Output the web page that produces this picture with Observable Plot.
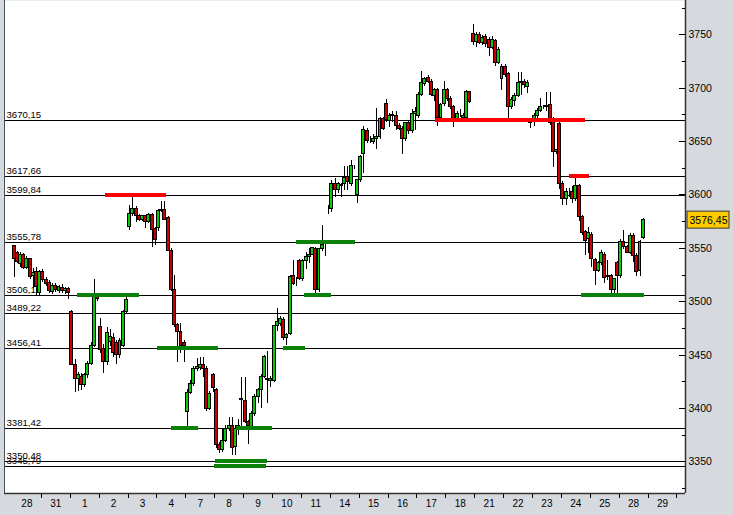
<!DOCTYPE html>
<html><head><meta charset="utf-8">
<script src="https://cdn.jsdelivr.net/npm/d3@7"></script>
<script src="https://cdn.jsdelivr.net/npm/@observablehq/plot@0.6"></script>
<style>
html,body{margin:0;padding:0;background:#d6dadf;}
#chart svg{display:block;}
</style></head><body><div id="chart"></div>
<script>
// ---- data ----
const dayLabels = ["28","31","1","2","3","4","7","8","9","10","11","14","15","16","17","18","21","22","23","24","25","28","29"];
const candlesPerDay = 9;
const open = [3552,3546,3535,3544,3532,3540,3524,3528,3508,3528,3520,3518,3509,3515,3510,3513,3510,3512,
3490,3441,3428,3430,3422,3431,3442,3459,3506,3476,3456,3444,3462,3466,3461,3450,3459,3490,
3570,3582,3587,3580,3577,3580,3575,3581,3568,3569,3585,3586,3578,3548,3511,3478,3472,3461,
3397,3415,3423,3437,3438,3441,3437,3400,3431,3417,3366,3361,3370,3381,3384,3364,3381,3408,
3407,3387,3383,3395,3411,3417,3430,3428,3426,3426,3477,3479,3483,3466,3470,3524,3517,3538,
3521,3538,3542,3544,3549,3511,3549,3554,3587,3587,3610,3605,3608,3610,3617,3610,3627,3600,
3614,3638,3660,3651,3650,3652,3654,3671,3685,3669,3674,3674,3665,3662,3652,3667,3660,3676,
3674,3694,3704,3710,3706,3693,3698,3672,3685,3698,3690,3682,3670,3676,3672,3672,3696,3751,
3743,3750,3742,3748,3745,3738,3744,3724,3709,3720,3713,3682,3688,3693,3705,3706,3701,3670,
3668,3674,3679,3682,3682,3684,3668,3640,3666,3610,3596,3602,3603,3596,3608,3579,3565,3559,
3563,3539,3529,3536,3544,3524,3524,3511,3536,3524,3556,3551,3546,3562,3543,3529,3560];
const high = [3553,3547,3546,3545,3542,3541,3531,3532,3529,3530,3523,3520,3517,3517,3515,3516,3513,3513,
3492,3446,3434,3433,3433,3444,3462,3521,3508,3484,3460,3476,3474,3470,3464,3466,3492,3506,
3590,3598,3589,3582,3581,3581,3583,3583,3570,3586,3594,3594,3580,3550,3525,3480,3480,3464,
3418,3426,3439,3447,3448,3448,3439,3416,3433,3419,3368,3380,3384,3392,3392,3384,3390,3429,
3429,3389,3397,3413,3419,3432,3450,3453,3430,3478,3494,3486,3485,3470,3525,3539,3523,3540,
3540,3546,3550,3551,3551,3550,3571,3557,3590,3614,3615,3612,3611,3627,3627,3632,3628,3614,
3637,3664,3662,3655,3657,3681,3673,3673,3689,3676,3678,3678,3667,3664,3668,3670,3680,3682,
3696,3716,3710,3712,3708,3700,3700,3686,3706,3700,3692,3684,3678,3680,3676,3698,3697,3760,
3752,3752,3749,3750,3747,3748,3746,3738,3722,3722,3715,3691,3695,3715,3715,3708,3707,3672,
3676,3681,3690,3684,3696,3696,3673,3643,3668,3613,3606,3606,3608,3615,3610,3581,3567,3570,
3565,3541,3538,3548,3546,3539,3526,3522,3538,3558,3567,3553,3564,3564,3545,3557,3578];
const low = [3523,3536,3532,3530,3530,3521,3512,3506,3506,3518,3514,3508,3507,3509,3508,3508,3507,3502,
3440,3415,3416,3417,3420,3428,3440,3457,3500,3452,3433,3440,3458,3448,3441,3447,3457,3488,
3567,3580,3574,3575,3575,3569,3573,3551,3553,3566,3584,3576,3547,3510,3476,3443,3452,3443,
3383,3413,3421,3435,3436,3429,3397,3398,3415,3363,3358,3359,3368,3379,3356,3356,3375,3381,
3386,3366,3381,3393,3405,3400,3428,3405,3420,3424,3472,3477,3464,3459,3468,3515,3514,3520,
3519,3530,3536,3543,3508,3509,3547,3542,3582,3584,3598,3601,3598,3604,3604,3608,3624,3592,
3612,3620,3648,3648,3647,3643,3652,3660,3668,3663,3668,3660,3660,3638,3650,3657,3658,3660,
3672,3692,3702,3704,3692,3688,3664,3670,3683,3688,3680,3663,3668,3673,3670,3670,3686,3740,
3738,3741,3740,3738,3730,3736,3720,3722,3698,3710,3671,3680,3683,3691,3693,3700,3695,3662,
3664,3672,3677,3680,3678,3665,3626,3638,3605,3590,3590,3598,3592,3594,3575,3562,3543,3545,
3532,3515,3527,3534,3517,3520,3508,3508,3507,3522,3549,3545,3544,3537,3524,3524,3558];
const close = [3540,3537,3544,3532,3540,3523,3527,3514,3528,3520,3517,3510,3515,3511,3514,3510,3512,3508,
3441,3428,3431,3422,3431,3442,3459,3506,3503,3455,3444,3471,3467,3452,3450,3463,3490,3502,
3582,3587,3580,3577,3580,3575,3581,3567,3558,3585,3586,3577,3548,3511,3478,3472,3459,3459,
3415,3423,3437,3439,3441,3437,3400,3414,3419,3366,3361,3370,3381,3384,3363,3381,3384,3409,
3387,3384,3395,3411,3417,3430,3448,3427,3428,3477,3481,3484,3466,3469,3523,3517,3517,3521,
3538,3542,3544,3550,3511,3549,3553,3556,3587,3610,3605,3610,3609,3616,3612,3627,3627,3614,
3636,3661,3651,3651,3652,3654,3671,3662,3670,3674,3675,3665,3662,3652,3667,3660,3676,3678,
3694,3705,3709,3706,3694,3698,3672,3684,3698,3690,3682,3670,3676,3676,3674,3696,3687,3743,
3750,3742,3747,3741,3738,3745,3724,3736,3720,3712,3682,3689,3693,3705,3706,3703,3705,3667,
3674,3679,3682,3682,3683,3667,3640,3642,3610,3596,3603,3602,3596,3608,3579,3564,3557,3564,
3540,3529,3536,3546,3522,3523,3511,3521,3524,3556,3551,3546,3562,3543,3528,3556,3576.45];
const levels = [3670.15, 3617.66, 3599.84, 3555.78, 3506.12, 3489.22, 3456.41, 3381.42, 3350.48, 3345.79];
// support zones: price level, first and last candle index covered
const greenLevel = [3506.12, 3456.41, 3381.42, 3350.48, 3345.79, 3381.42, 3456.41, 3506.12, 3555.78, 3506.12];
const greenFrom  = [19.8, 44.8, 48.9, 62.8, 62.5, 69.3, 83.9, 90.5, 88.0, 176.8];
const greenTo    = [39.1, 63.8, 57.6, 78.9, 78.6, 80.5, 90.8, 98.9, 106.4, 196.4];
// resistance zones
const redLevel = [3599.84, 3670.15, 3617.66];
const redFrom  = [28.5, 131.3, 173.0];
const redTo    = [47.5, 178.0, 179.3];
const lastPrice = 3576.45;
const yTicks = [3350, 3400, 3450, 3500, 3550, 3600, 3650, 3700, 3750];
const yMinor = [3325, 3375, 3425, 3475, 3525, 3575, 3625, 3675, 3725, 3775];

// ---- build ----
const candles = open.map((o, i) => ({i, open: o, high: high[i], low: low[i], close: close[i]}));
const greens = greenLevel.map((y, j) => ({y, from: greenFrom[j], to: greenTo[j]}));
const reds = redLevel.map((y, j) => ({y, from: redFrom[j], to: redTo[j]}));
const kMin = -2.98, kMax = 209.17;
const yMin = 3320.5, yMax = 3782.1;
const fmt = v => v.toFixed(2).replace(".", ",");
const dayBounds = dayLabels.map((d, i) => i * candlesPerDay + candlesPerDay - 0.5);
const dayPos = (d, i) => {
  const a = Math.max(kMin, i * candlesPerDay - 0.5), b = i * candlesPerDay + candlesPerDay - 0.5;
  return (a + b) / 2;
};
const font = "'Liberation Sans', Arial, sans-serif";
const crisp = {shapeRendering: "crispEdges"};

const chart = Plot.plot({
  width: 733, height: 515,
  marginLeft: 4, marginRight: 48, marginTop: 0, marginBottom: 22,
  x: {domain: [kMin, kMax], axis: null},
  y: {domain: [yMin, yMax], axis: null},
  style: {background: "#d6dadf", fontFamily: font, fontSize: "10px", color: "black"},
  marks: [
    Plot.frame({fill: "white", stroke: null}),
    Plot.ruleY(levels, {y: d => d, stroke: "black", strokeWidth: 1, ...crisp}),
    Plot.text(levels, {y: d => d, frameAnchor: "left", text: fmt, textAnchor: "start", lineAnchor: "bottom", dx: 2, dy: -2, fontSize: 9.6, fill: "black"}),
    Plot.ruleX(candles, {x: "i", y1: "low", y2: "high", stroke: "black", strokeWidth: 1, ...crisp}),
    Plot.rect(candles, {x1: d => d.i - 0.46, x2: d => d.i + 0.46, y1: "open", y2: "close",
      fill: d => d.close >= d.open ? "#0cc80c" : "#c80000", stroke: "black", strokeWidth: 1, ...crisp}),
    Plot.ruleY(greens, {y: "y", x1: "from", x2: "to", stroke: "#0a820a", strokeWidth: 4, ...crisp}),
    Plot.ruleY(reds, {y: "y", x1: "from", x2: "to", stroke: "#ff0000", strokeWidth: 4, ...crisp}),
    Plot.ruleX([kMax], {stroke: "#333", strokeWidth: 1.5}),
    Plot.ruleY([yMin], {stroke: "#333", strokeWidth: 1.5}),
    Plot.ruleX([kMin], {stroke: "#4a5060", strokeWidth: 1}),
    Plot.tickY(yTicks, {y: d => d, insetLeft: 675, stroke: "black", ...crisp}),
    Plot.tickY(yMinor, {y: d => d, insetLeft: 678, stroke: "black", ...crisp}),
    Plot.text(yTicks, {y: d => d, frameAnchor: "right", dx: 3, textAnchor: "start", text: d => String(d), fontSize: 10.5, fill: "black"}),
    Plot.tickX(dayBounds, {x: d => d, insetTop: 494, insetBottom: -5, stroke: "black", ...crisp}),
    Plot.text(dayLabels, {x: dayPos, frameAnchor: "bottom", dy: 13, text: d => d, fontSize: 10, fill: "black"}),
    Plot.rect([lastPrice], {x1: kMax, x2: kMax, y1: d => d, y2: d => d, insetLeft: 2, insetRight: -44, insetTop: -8.5, insetBottom: -8.5, fill: "#ffcc00", stroke: "#333"}),
    Plot.text([lastPrice], {y: d => d, frameAnchor: "right", dx: 23, text: fmt, textAnchor: "middle", fontSize: 10.5, fill: "black"})
  ]
});
document.getElementById("chart").appendChild(chart);
</script>
</body></html>
